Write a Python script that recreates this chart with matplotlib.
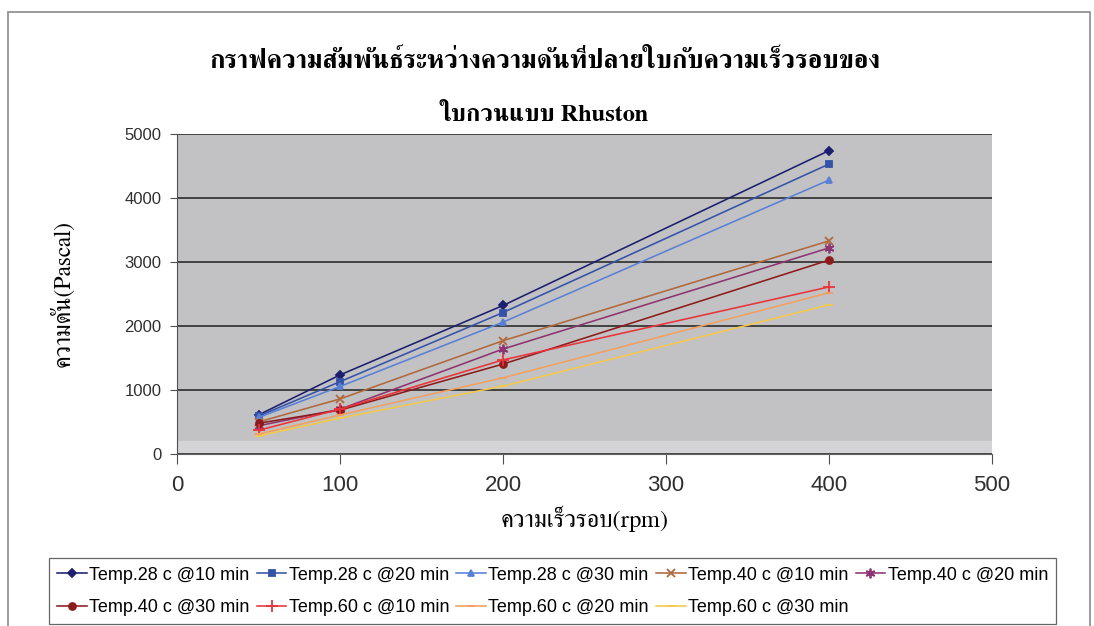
import matplotlib
matplotlib.use("Agg")
import matplotlib.pyplot as plt
from matplotlib.patches import Rectangle

# speed (rpm) and tip pressure (Pascal) for each test condition
rpm = [50, 100, 200, 400]

t28_10 = [610, 1235, 2320, 4740]
t28_20 = [590, 1130, 2210, 4530]
t28_30 = [570, 1055, 2060, 4280]
t40_10 = [500, 860, 1770, 3330]
t40_20 = [440, 700, 1640, 3220]
t40_30 = [480, 685, 1405, 3030]
t60_10 = [370, 700, 1470, 2610]
t60_20 = [310, 610, 1190, 2520]
t60_30 = [280, 560, 1060, 2330]

labels = ["Temp.28 c @10 min", "Temp.28 c @20 min", "Temp.28 c @30 min",
          "Temp.40 c @10 min", "Temp.40 c @20 min", "Temp.40 c @30 min",
          "Temp.60 c @10 min", "Temp.60 c @20 min", "Temp.60 c @30 min"]

series = [t28_10, t28_20, t28_30, t40_10, t40_20, t40_30, t60_10, t60_20, t60_30]
colors = ["#1c1f6e", "#3452a8", "#5a80d6", "#b0683c", "#8e3470",
          "#8c1c1c", "#e8343a", "#f2a060", "#f2c94a"]
markers = ["D", "s", "^", "x", (6, 2, 0), "o", "+", "_", "_"]
msizes = [4, 4, 5, 6, 7, 5, 8, 6, 6]

thai_serif = ["FreeSerif", "DejaVu Serif"]

fig = plt.figure(figsize=(10.94, 6.26), dpi=100)
ax = fig.add_axes([0.1618, 0.2748, 0.745, 0.5112])

ax.set_facecolor("#c2c2c4")
ax.axhspan(0, 200, color="#d4d4d6", zorder=0)

for y, c, m, ms, lab in zip(series, colors, markers, msizes, labels):
    ax.plot(rpm, y, color=c, marker=m, markersize=ms, linewidth=1.15,
            markeredgewidth=1.3, label=lab, zorder=3)

ax.set_xlim(0, 500)
ax.set_ylim(0, 5000)
ax.set_xticks(range(0, 501, 100))
ax.set_yticks(range(0, 5001, 1000))
ax.yaxis.grid(True, color="#202020", linewidth=1.1)
ax.set_axisbelow(True)

for s in ["top", "right"]:
    ax.spines[s].set_visible(False)
ax.spines["left"].set_color("#505050")
ax.spines["bottom"].set_color("#606060")
ax.tick_params(axis="y", labelsize=12, length=5, color="#505050", pad=6)
ax.tick_params(axis="x", labelsize=16, length=7, color="#505050", pad=8)
for t in ax.get_xticklabels() + ax.get_yticklabels():
    t.set_family("Liberation Sans")
    t.set_color("#303030")

ax.set_xlabel("ความเร็วรอบ(rpm)", family=thai_serif, fontsize=17.5, labelpad=7)
ax.set_ylabel("ความดัน(Pascal)", family=thai_serif, fontsize=17, labelpad=36)

fig.text(0.498, 0.903, "กราฟความสัมพันธ์ระหว่างความดันที่ปลายใบกับความเร็วรอบของ",
         family=thai_serif, fontsize=18.8, fontweight="bold", ha="center", va="center")
fig.text(0.497, 0.817, "ใบกวนแบบ Rhuston",
         family=thai_serif, fontsize=17.5, fontweight="bold", ha="center", va="center")

# row-major legend: reorder entries for matplotlib's column-major fill
handles, labs = ax.get_legend_handles_labels()
order = [0, 5, 1, 6, 2, 7, 3, 8, 4]
leg = fig.legend([handles[i] for i in order], [labs[i] for i in order],
                 ncol=5, loc="lower left", bbox_to_anchor=(0.0448, 0.0032, 0.9205, 0.1134),
                 mode="expand", frameon=True, fancybox=False,
                 prop={"family": "Liberation Sans", "size": 13},
                 handlelength=1.65, handletextpad=0.12, columnspacing=0.3,
                 borderaxespad=0, labelspacing=0.85, borderpad=0.45)
leg.get_frame().set_edgecolor("#404040")
leg.get_frame().set_linewidth(0.9)

# thin outer frame of the chart area
fig.patches.append(Rectangle((0.0075, -0.01), 0.989, 0.991, transform=fig.transFigure,
                             fill=False, edgecolor="#8a8a8a", linewidth=1.2))

fig.savefig("out.png", dpi=100)
